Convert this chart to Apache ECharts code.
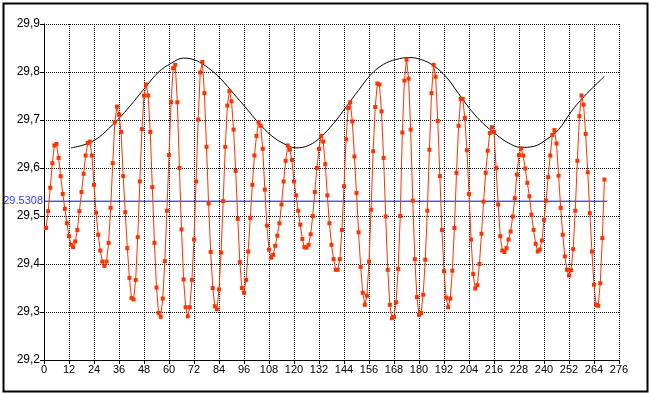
<!DOCTYPE html>
<html>
<head>
<meta charset="utf-8">
<script src="https://cdn.jsdelivr.net/npm/echarts@6/dist/echarts.min.js"></script>
<style>
html,body{margin:0;padding:0;background:#fff;}
#c{width:649px;height:393px;}
</style>
</head>
<body>
<div id="c"></div>
<script>
// Month lengths (days), lunation index 1..269
const monthLengths = [
29.475,29.510,29.559,29.610,29.647,29.650,29.621,29.583,29.546,29.515,
29.485,29.458,29.440,29.435,29.447,29.471,29.510,29.550,29.588,29.626,
29.652,29.655,29.626,29.565,29.507,29.461,29.428,29.405,29.396,29.405,
29.444,29.517,29.610,29.695,29.728,29.711,29.675,29.583,29.508,29.433,
29.371,29.329,29.326,29.367,29.456,29.572,29.681,29.751,29.774,29.751,
29.675,29.560,29.444,29.351,29.298,29.290,29.328,29.406,29.511,29.627,
29.737,29.808,29.815,29.737,29.600,29.472,29.368,29.310,29.291,29.310,
29.367,29.451,29.572,29.701,29.799,29.821,29.756,29.644,29.526,29.425,
29.350,29.312,29.306,29.347,29.424,29.531,29.644,29.730,29.760,29.739,
29.680,29.594,29.494,29.404,29.350,29.340,29.367,29.426,29.496,29.565,
29.626,29.667,29.695,29.688,29.640,29.555,29.480,29.430,29.413,29.419,
29.438,29.459,29.485,29.524,29.572,29.615,29.647,29.638,29.617,29.572,
29.543,29.511,29.482,29.452,29.435,29.434,29.440,29.462,29.500,29.550,
29.600,29.640,29.667,29.655,29.608,29.543,29.485,29.440,29.410,29.388,
29.388,29.410,29.471,29.562,29.660,29.725,29.737,29.697,29.624,29.548,
29.466,29.394,29.340,29.315,29.334,29.405,29.513,29.635,29.727,29.776,
29.774,29.718,29.621,29.499,29.388,29.315,29.287,29.290,29.320,29.390,
29.500,29.674,29.782,29.826,29.786,29.680,29.532,29.410,29.331,29.294,
29.298,29.336,29.409,29.511,29.638,29.756,29.815,29.790,29.698,29.583,
29.471,29.385,29.330,29.310,29.328,29.386,29.475,29.590,29.688,29.744,
29.744,29.704,29.637,29.546,29.451,29.379,29.349,29.356,29.400,29.463,
29.530,29.590,29.636,29.673,29.685,29.675,29.600,29.524,29.458,29.428,
29.425,29.433,29.451,29.468,29.499,29.537,29.586,29.627,29.641,29.626,
29.599,29.569,29.541,29.503,29.471,29.442,29.426,29.430,29.449,29.492,
29.532,29.581,29.626,29.669,29.679,29.651,29.584,29.517,29.461,29.416,
29.388,29.376,29.387,29.431,29.511,29.615,29.708,29.751,29.732,29.671,
29.591,29.506,29.426,29.357,29.315,29.313,29.360,29.454,29.576
];
const firstIndex = 1;

// Envelope curve (black)
const envX = [13,19,25,31,37,43,49,55,61,67,73,79,85,91,97,103,109,115,121,127,133,139,145,151,157,163,169,175,181,187,193,199,205,211,217,223,229,235,241,247,253,259,265,269];
const envY = [29.642,29.648,29.660,29.682,29.708,29.738,29.770,29.800,29.818,29.829,29.824,29.808,29.785,29.755,29.725,29.694,29.668,29.651,29.642,29.647,29.665,29.693,29.727,29.762,29.795,29.816,29.826,29.830,29.826,29.813,29.790,29.755,29.720,29.692,29.670,29.652,29.643,29.645,29.659,29.680,29.717,29.748,29.774,29.791];

// Mean synodic month
const meanValue = 29.5308;
const meanRange = [0, 270.4];

// Axis ticks
const xTicks = {min: 0, max: 276, step: 12};
const yTicks = {min: 29.2, max: 29.9, step: 0.1};

const mainData = monthLengths.map((v, i) => [i + firstIndex, v]);
const envData = envX.map((x, i) => [x, envY[i]]);
const meanData = meanRange.map(x => [x, meanValue]);

const chart = echarts.init(document.getElementById('c'), null, {renderer: 'canvas'});
const fontFam = "'Liberation Sans', Arial, sans-serif";
chart.setOption({
  animation: false,
  backgroundColor: '#ffffff',
  grid: {left: 44, right: 30, top: 24, bottom: 33, containLabel: false},
  xAxis: {
    type: 'value', min: xTicks.min, max: xTicks.max, interval: xTicks.step,
    axisLine: {show: true, lineStyle: {color: '#000', width: 1}},
    axisTick: {show: true, length: 4, lineStyle: {color: '#000'}},
    axisLabel: {color: '#000', fontSize: 11, fontFamily: fontFam, margin: 4},
    splitLine: {show: true, lineStyle: {color: '#000', type: [1, 1], width: 1}}
  },
  yAxis: {
    type: 'value', min: yTicks.min, max: yTicks.max, interval: yTicks.step,
    axisLine: {show: true, lineStyle: {color: '#000', width: 1}},
    axisTick: {show: true, length: 4, lineStyle: {color: '#000'}},
    axisLabel: {color: '#000', fontSize: 12, fontFamily: fontFam, margin: 4,
      formatter: v => v.toFixed(1).replace('.', ',')},
    splitLine: {show: true, lineStyle: {color: '#000', type: [1, 1], width: 1}}
  },
  series: [
    {
      type: 'line', data: meanData, symbol: 'none', silent: true,
      lineStyle: {color: '#0000ff', width: 1},
      z: 2
    },
    {
      type: 'scatter', data: [meanData[0]], symbolSize: 0, silent: true,
      label: {show: true, position: 'left', distance: 1, color: '#0000ff', fontSize: 11, fontFamily: fontFam,
        formatter: () => meanValue.toFixed(4)},
      z: 2
    },
    {
      type: 'line', data: envData, symbol: 'none', smooth: 0.4, silent: true,
      lineStyle: {color: '#000', width: 1}, z: 3
    },
    {
      type: 'line', data: mainData, symbol: 'rect', symbolSize: 4, silent: true,
      lineStyle: {color: '#ff3300', width: 1},
      itemStyle: {color: '#ff3300', borderWidth: 0}, z: 4
    }
  ],
  graphic: [{
    type: 'rect', left: 1, top: 1, silent: true,
    shape: {x: 0, y: 0, width: 644, height: 388},
    style: {fill: 'none', stroke: '#000', lineWidth: 2}
  }]
});
</script>
</body>
</html>
